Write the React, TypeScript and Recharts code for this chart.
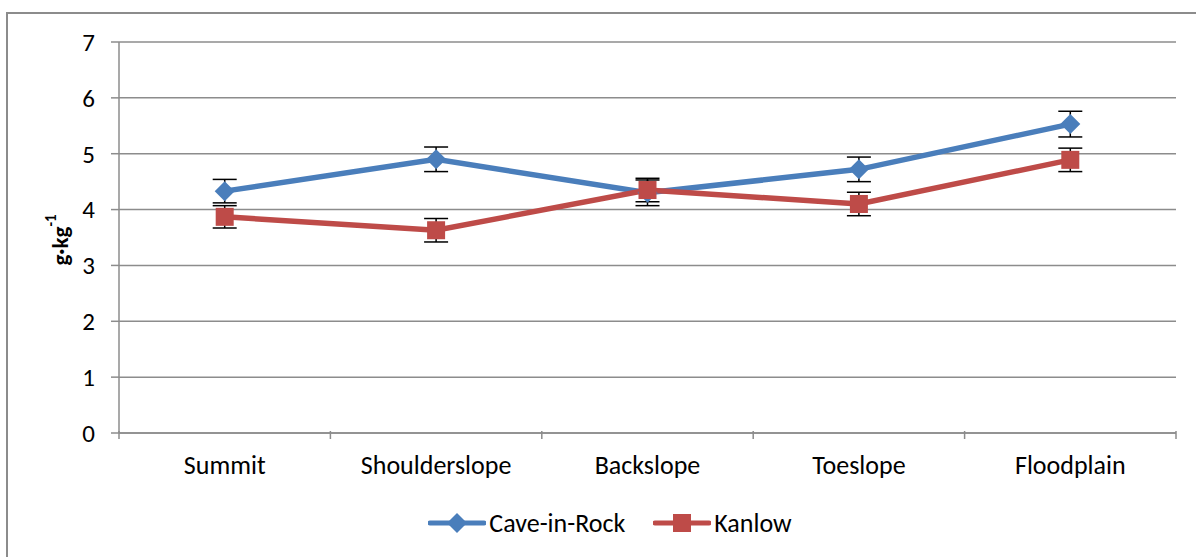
import { LineChart, Line, XAxis, YAxis, CartesianGrid, Legend, ErrorBar } from 'recharts';

const categories = ['Summit', 'Shoulderslope', 'Backslope', 'Toeslope', 'Floodplain'];
const caveInRock = [4.33, 4.9, 4.3, 4.72, 5.53];
const caveErr = [0.21, 0.22, 0.23, 0.22, 0.23];
const kanlow = [3.87, 3.63, 4.35, 4.1, 4.89];
const kanlowErr = [0.2, 0.21, 0.21, 0.21, 0.21];
const yTicks = [0, 1, 2, 3, 4, 5, 6, 7];

const data = categories.map((name, i) => ({
  name,
  cave: caveInRock[i],
  caveErr: caveErr[i],
  kanlow: kanlow[i],
  kanlowErr: kanlowErr[i],
}));

const BLUE = '#4A7EBB';
const RED = '#BE4B48';
const GRID = '#8C8C8C';
const FONT = 'Carlito, Calibri, Lato, sans-serif';

const W = 1196;
const H = 557;
const margin = { top: 42, right: 20, left: 59, bottom: 12 };
const Y_AXIS_W = 60;
const BAND = (W - margin.left - Y_AXIS_W - margin.right) / categories.length;

const Diamond = (props: any) => {
  const { cx, cy } = props;
  if (cx == null || cy == null) return null;
  const r = 10;
  return <path d={`M${cx},${cy - r}L${cx + r},${cy}L${cx},${cy + r}L${cx - r},${cy}Z`} fill={BLUE} />;
};

const Square = (props: any) => {
  const { cx, cy } = props;
  if (cx == null || cy == null) return null;
  const s = 9;
  return <rect x={cx - s} y={cy - s} width={s * 2} height={s * 2} fill={RED} />;
};

const CategoryTick = (props: any) => {
  const { x, y, payload, index } = props;
  const top = y - 10;
  return (
    <g>
      <line x1={x - BAND / 2} x2={x - BAND / 2} y1={top} y2={top + 8} stroke={GRID} strokeWidth={1.5} />
      {index === categories.length - 1 && (
        <line x1={x + BAND / 2} x2={x + BAND / 2} y1={top} y2={top + 8} stroke={GRID} strokeWidth={1.5} />
      )}
      <text x={x} y={top + 43} textAnchor="middle" fill="#000" fontSize={26} fontFamily={FONT}>
        {payload.value}
      </text>
    </g>
  );
};

const YLabel = () => {
  const cy = 240;
  const cx = 60;
  return (
    <text
      x={cx}
      y={cy}
      transform={`rotate(-90 ${cx} ${cy})`}
      textAnchor="middle"
      fontSize={23}
      fontWeight="bold"
      fontFamily={FONT}
      fill="#000"
      dominantBaseline="central"
    >
      g·kg
      <tspan fontSize={15} dy={-9}>-1</tspan>
    </text>
  );
};

const LegendContent = () => (
  <div
    style={{
      height: 44,
      display: 'flex',
      alignItems: 'center',
      justifyContent: 'center',
      paddingLeft: 24,
      fontFamily: FONT,
      fontSize: 26,
      color: '#000',
    }}
  >
    <svg width={58} height={22} style={{ marginRight: 3 }}>
      <line x1={2} x2={56} y1={11} y2={11} stroke={BLUE} strokeWidth={5} strokeLinecap="round" />
      <path d="M29,1L39,11L29,21L19,11Z" fill={BLUE} />
    </svg>
    <span style={{ marginRight: 28 }}>Cave-in-Rock</span>
    <svg width={58} height={22} style={{ marginRight: 3 }}>
      <line x1={2} x2={56} y1={11} y2={11} stroke={RED} strokeWidth={5} strokeLinecap="round" />
      <rect x={20} y={2} width={18} height={18} fill={RED} />
    </svg>
    <span>Kanlow</span>
  </div>
);

export default function App() {
  return (
    <div style={{ position: 'absolute', left: 0, top: 0, width: W, height: H, overflow: 'hidden', background: '#fff' }}>
      <div
        style={{
          position: 'absolute',
          left: 6,
          top: 12,
          width: W + 20,
          height: H + 20,
          border: '2px solid #8C8C8C',
        }}
      />
      <div style={{ position: 'absolute', left: 0, top: 0 }}>
        <LineChart width={W} height={H} data={data} margin={margin}>
          <CartesianGrid horizontal vertical={false} stroke={GRID} strokeWidth={1.5} />
          <XAxis
            dataKey="name"
            scale="band"
            height={68}
            axisLine={{ stroke: GRID, strokeWidth: 1.5 }}
            tickLine={false}
            tick={<CategoryTick />}
            interval={0}
          />
          <YAxis
            width={Y_AXIS_W}
            domain={[0, 7]}
            ticks={yTicks}
            interval={0}
            axisLine={{ stroke: GRID, strokeWidth: 1.5 }}
            tickLine={{ stroke: GRID, strokeWidth: 1.5 }}
            tickSize={8}
            tickMargin={16}
            tick={{ fill: '#000', fontSize: 25, fontFamily: FONT }}
            label={<YLabel />}
          />
          <Legend verticalAlign="bottom" content={<LegendContent />} wrapperStyle={{ left: 0, width: W }} />
          <Line
            dataKey="cave"
            name="Cave-in-Rock"
            stroke={BLUE}
            strokeWidth={5.5}
            dot={<Diamond />}
            activeDot={false}
            isAnimationActive={false}
          >
            <ErrorBar dataKey="caveErr" width={12} stroke="#000" strokeWidth={1.5} direction="y" />
          </Line>
          <Line
            dataKey="kanlow"
            name="Kanlow"
            stroke={RED}
            strokeWidth={5.5}
            dot={<Square />}
            activeDot={false}
            isAnimationActive={false}
          >
            <ErrorBar dataKey="kanlowErr" width={12} stroke="#000" strokeWidth={1.5} direction="y" />
          </Line>
        </LineChart>
      </div>
    </div>
  );
}
